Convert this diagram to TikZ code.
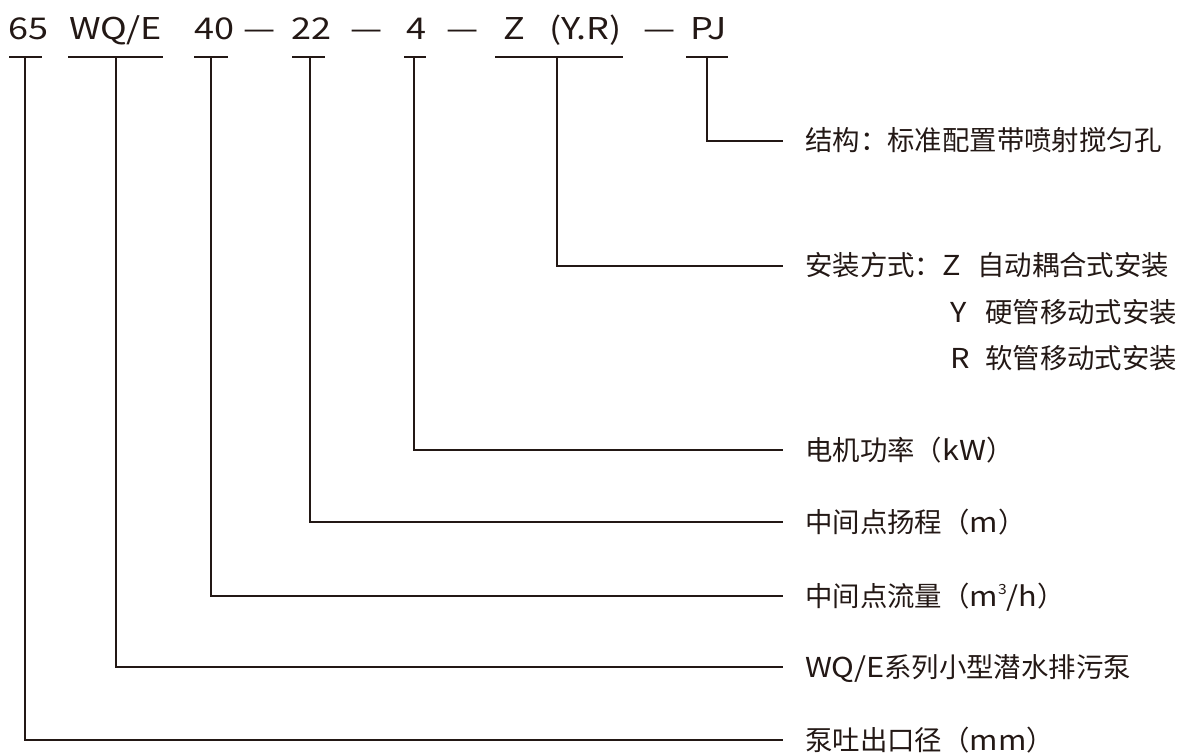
\documentclass[tikz,border=0pt]{standalone}
\usepackage{fontspec}
\setmainfont{Noto Sans CJK SC}
\newfontfamily\hdfont[FakeStretch=1.2]{Noto Sans CJK SC}
\newfontfamily\latfont[FakeStretch=1.12]{Noto Sans CJK SC}
\newcommand{\lat}[1]{{\latfont #1}}
\usetikzlibrary{calc}
\definecolor{ink}{HTML}{231815}
\tikzset{
  hd/.style={anchor=base west, inner sep=0pt, font=\hdfont\fontsize{30}{30}\selectfont, text=ink},
  lb/.style={anchor=base west, inner sep=0pt, font=\fontsize{27.4}{27.4}\selectfont, text=ink},
  ln/.style={draw=ink, line width=1.4pt},
}
\begin{document}
\begin{tikzpicture}[x=1pt,y=-1pt]
\useasboundingbox (0,0) rectangle (1186,754);
% header
\node[hd] (h65) at (8,40) {65};
\node[hd] (hwq) at (69,40) {WQ/E};
\node[hd] (h40) at (194,40) {40};
\node[hd] (d1) at (243,40) {—};
\node[hd] (h22) at (291,40) {22};
\node[hd] (d2) at (350,40) {—};
\node[hd] (h4) at (406,40) {4};
\node[hd] (d3) at (446,40) {—};
\node[hd] (hz) at (503,40) {Z};
\node[hd] (hyr) at (549,40) {(Y.R)};
\node[hd] (d4) at (643,40) {—};
\node[hd] (hpj) at (690,40) {PJ};
% underlines
\draw[ln] (9,57) -- (42,57);
\draw[ln] (68,57) -- (163,57);
\draw[ln] (194,57) -- (228,57);
\draw[ln] (292,57) -- (325,57);
\draw[ln] (404,57) -- (426,57);
\draw[ln] (495,57) -- (623,57);
\draw[ln] (686,57) -- (728,57);
\coordinate (u65) at (25,57);
\coordinate (uwq) at (116,57);
\coordinate (u40) at (211,57);
\coordinate (u22) at (310,57);
\coordinate (u4) at (414,57);
\coordinate (uz) at (557,57);
\coordinate (upj) at (707,57);
% labels
\node[lb] (lpj) at (805,151) {结构：标准配置带喷射搅匀孔};
\node[lb] (lz) at (805,276) {安装方式：\lat{Z}};
\node[lb] (lz2) at (977,276) {自动耦合式安装};
\node[lb] (ly) at (950,322) {\lat{Y}};
\node[lb] (ly2) at (985,322) {硬管移动式安装};
\node[lb] (lr) at (950,368) {\lat{R}};
\node[lb] (lr2) at (985,368) {软管移动式安装};
\node[lb] (l4) at (805,460) {电机功率（\lat{kW}）};
\node[lb] (l22) at (805,532) {中间点扬程（\lat{m}）};
\node[lb] (l40) at (805,606) {中间点流量（\lat{m\raisebox{0.42em}{\fontsize{14}{14}\selectfont 3}/h}）};
\node[lb] (lwq) at (805,677) {\lat{WQ/E}系列小型潜水排污泵};
\node[lb] (l65) at (805,750) {泵吐出口径（\lat{mm}）};
% connectors
\foreach \a/\b in {upj/lpj,uz/lz,u4/l4,u22/l22,u40/l40,uwq/lwq,u65/l65}
  \draw[ln] (\a) |- ($(\b.base west)+(-22,-10)$);
\end{tikzpicture}
\end{document}
